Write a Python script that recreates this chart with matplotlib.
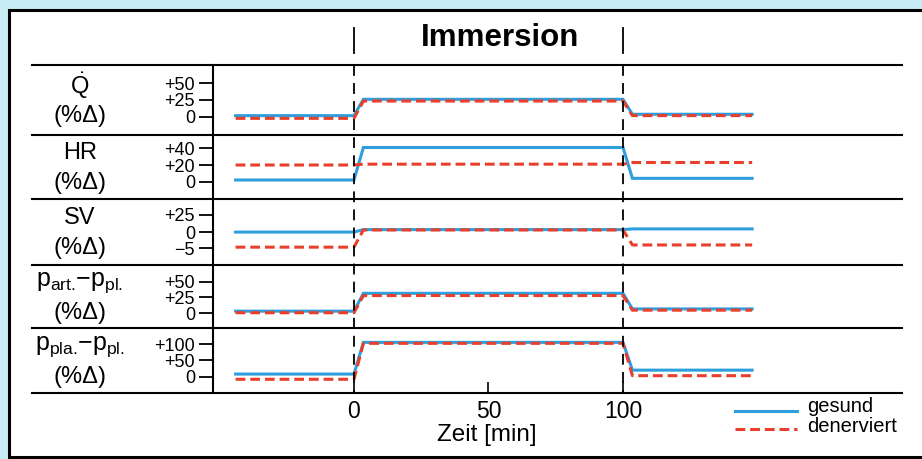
import matplotlib
matplotlib.use("Agg")
import numpy as np
import matplotlib.pyplot as plt
from matplotlib.lines import Line2D
from matplotlib.patches import Rectangle
from matplotlib.transforms import blended_transform_factory

plt.rcParams['font.family'] = ['Liberation Sans', 'DejaVu Sans']
plt.rcParams['mathtext.fontset'] = 'custom'
plt.rcParams['mathtext.rm'] = 'Liberation Sans'
plt.rcParams['mathtext.it'] = 'Liberation Sans:italic'
plt.rcParams['mathtext.bf'] = 'Liberation Sans:bold'

# Zeitpunkte (min): Vorphase, Beginn, Anstieg, Ende, Abfall, Nachphase
zeit = [-44, 0, 3.5, 100, 103.5, 148]

q_gesund = [2, 2, 26, 26, 4, 4]
q_denerviert = [-2, -2, 23.5, 23.5, 2, 2]
hr_gesund = [2, 2, 41, 41, 4, 4]
hr_denerviert = [20, 20, 21, 21, 23, 23]
sv_gesund = [0.5, 0.5, 4, 4, 5, 5]
sv_denerviert = [-4.7, -4.7, 3.5, 3.5, -4, -4]
part_gesund = [3.5, 3.5, 31.5, 31.5, 7, 7]
part_denerviert = [1, 1, 28, 28, 5, 5]
ppla_gesund = [8, 8, 105, 105, 20, 20]
ppla_denerviert = [-8, -8, 102, 102, 3, 3]

zeilen_titel = [r'$\dot{\mathrm{Q}}$', 'HR', 'SV',
                r'$\mathrm{p_{art.}\!{-}p_{pl.}}$', r'$\mathrm{p_{pla.}\!{-}p_{pl.}}$']
gesund = [q_gesund, hr_gesund, sv_gesund, part_gesund, ppla_gesund]
denerviert = [q_denerviert, hr_denerviert, sv_denerviert, part_denerviert, ppla_denerviert]
y_ticks = [[0, 25, 50], [0, 20, 40], [-5, 0, 25], [0, 25, 50], [0, 50, 100]]
y_labels = [['0', '+25', '+50'], ['0', '+20', '+40'], ['−5', '0', '+25'],
            ['0', '+25', '+50'], ['0', '+50', '+100']]
y_lims = [(-26.5, 76.5), (-20.8, 56), (-10.4, 47.3), (-23, 76), (-50, 149)]
x_ticks = [0, 50, 100]

BLUE = '#2e9fdc'
RED = '#e8402c'
W, H = 922, 459


def fx(px):
    return px / W


def fy(px):
    return 1 - px / H


# SV-Achse: negative Werte gestreckt wie im Original
def sv_vor(v):
    return np.where(v >= 0, v, v * 4.43)


def sv_rueck(v):
    return np.where(v >= 0, v, v / 4.43)


fig = plt.figure(figsize=(9.22, 4.59), dpi=100, facecolor='#c8ecf4')
fig.add_artist(Rectangle((fx(9), fy(457)), fx(930 - 9), fy(10) - fy(457),
                         transform=fig.transFigure, facecolor='white',
                         edgecolor='black', lw=2.2, zorder=-5))

grenzen = [65, 135, 199, 265, 328, 393]
axes = []
for i in range(5):
    ax = fig.add_axes([fx(213), fy(grenzen[i + 1]), fx(902) - fx(213),
                       fy(grenzen[i]) - fy(grenzen[i + 1])])
    ax.set_facecolor('none')
    if i == 2:
        ax.set_yscale('function', functions=(sv_vor, sv_rueck))
    ax.plot(zeit, gesund[i], color=BLUE, lw=2.2, solid_joinstyle='miter')
    ax.plot(zeit, denerviert[i], color=RED, lw=2.2, dashes=(3.2, 1.6))
    ax.set_xlim(-52.4, 203.7)
    ax.set_ylim(*y_lims[i])
    ax.set_yticks(y_ticks[i])
    ax.set_yticklabels(y_labels[i])
    ax.minorticks_off()
    ax.tick_params(axis='y', length=10, width=1.3, labelsize=13, pad=3)
    for s in ['top', 'right', 'bottom']:
        ax.spines[s].set_visible(False)
    ax.spines['left'].set_linewidth(1.5)
    if i < 4:
        ax.set_xticks([])
    else:
        ax.set_xticks(x_ticks)
        ax.tick_params(axis='x', direction='in', length=8, width=1.2,
                       labelsize=16.5, pad=5)
    axes.append(ax)

    mitte = (grenzen[i] + grenzen[i + 1]) / 2
    fs = 18 if i >= 3 else 17
    fig.text(fx(80), fy(mitte - 14), zeilen_titel[i], ha='center', va='center',
             fontsize=fs)
    fig.text(fx(80), fy(mitte + 16), '(%Δ)', ha='center', va='center', fontsize=17)

for b in grenzen:
    fig.add_artist(Line2D([fx(32), fx(902)], [fy(b), fy(b)],
                          transform=fig.transFigure, color='black', lw=1.5))

trans = blended_transform_factory(axes[0].transData, fig.transFigure)
for t in [0, 100]:
    fig.add_artist(Line2D([t, t], [fy(65), fy(393)], transform=trans,
                          color='black', lw=1.3, dashes=(6, 4)))
    fig.add_artist(Line2D([t, t], [fy(28), fy(53)], transform=trans,
                          color='black', lw=1.3))

fig.text(fx(500), fy(38), 'Immersion', ha='center', va='center',
         fontsize=22.5, fontweight='bold')
fig.text(fx(487), fy(435), 'Zeit [min]', ha='center', va='center', fontsize=17.5)

# Legende
fig.add_artist(Line2D([fx(735), fx(797)], [fy(411), fy(411)],
                      transform=fig.transFigure, color=BLUE, lw=2.2))
fig.add_artist(Line2D([fx(735), fx(797)], [fy(429), fy(429)],
                      transform=fig.transFigure, color=RED, lw=2.2, dashes=(3.2, 1.6)))
fig.text(fx(807), fy(406), 'gesund', ha='left', va='center', fontsize=14.5)
fig.text(fx(807), fy(427), 'denerviert', ha='left', va='center', fontsize=14.5)

fig.savefig('out.png', dpi=100, facecolor=fig.get_facecolor())
